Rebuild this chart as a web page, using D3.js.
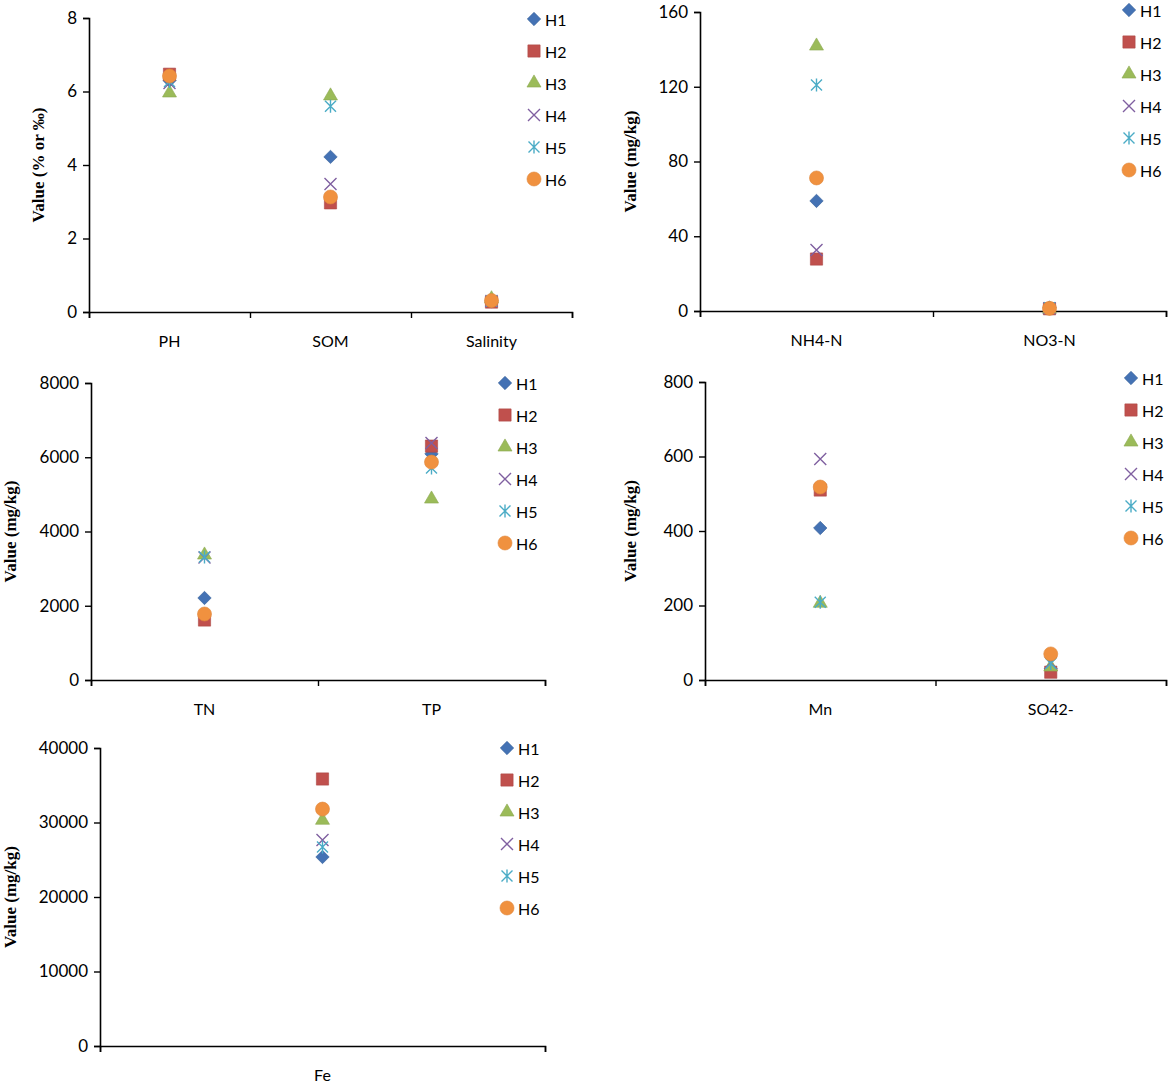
<!DOCTYPE html>
<html>
<head>
<meta charset="utf-8">
<script src="https://cdn.jsdelivr.net/npm/d3@7"></script>
<style>
  body { margin: 0; background: #fff; }
  svg { display: block; }
</style>
</head>
<body>
<div id="chart"></div>
<script>
// Series (sampling sites)
var seriesNames  = ["H1", "H2", "H3", "H4", "H5", "H6"];
var seriesColors = ["#4472B4", "#C0504D", "#9BBB59", "#7F5FA0", "#4BACC6", "#F0913F"];
var seriesShapes = ["diamond", "square", "triangle", "x", "star", "circle"];

// Panel 1: PH, SOM, Salinity
var cats1   = ["PH", "SOM", "Salinity"];
var values1 = [
  [6.30, 4.22, 0.30],
  [6.47, 2.97, 0.27],
  [5.96, 5.88, 0.36],
  [6.23, 3.48, 0.30],
  [6.27, 5.60, 0.30],
  [6.42, 3.13, 0.31]
];
var ticks1 = [0, 2, 4, 6, 8];

// Panel 2: NH4-N, NO3-N
var cats2   = ["NH4-N", "NO3-N"];
var values2 = [
  [58.9, 1.8],
  [27.8, 1.2],
  [141.8, 1.0],
  [32.6, 1.5],
  [120.9, 1.7],
  [71.2, 1.4]
];
var ticks2 = [0, 40, 80, 120, 160];

// Panel 3: TN, TP
var cats3   = ["TN", "TP"];
var values3 = [
  [2209, 6090],
  [1616, 6300],
  [3367, 4875],
  [3300, 6384],
  [3313, 5710],
  [1778, 5870]
];
var ticks3 = [0, 2000, 4000, 6000, 8000];

// Panel 4: Mn, SO42-
var cats4   = ["Mn", "SO42-"];
var values4 = [
  [408, 30],
  [510, 21],
  [206, 35],
  [593, 46],
  [209, 44],
  [518, 70]
];
var ticks4 = [0, 200, 400, 600, 800];

// Panel 5: Fe
var cats5   = ["Fe"];
var values5 = [
  [25370],
  [35840],
  [30300],
  [27650],
  [26700],
  [31800]
];
var ticks5 = [0, 10000, 20000, 30000, 40000];

var panels = [
  { cats: cats1, values: values1, ticks: ticks1, label: "Value (% or \u2030)",
    x0: 89,  x1: 572,  yTop: 18,  yZero: 312, legendX: 534,  legendY: 19,  labelX: 40 },
  { cats: cats2, values: values2, ticks: ticks2, label: "Value (mg/kg)",
    x0: 700, x1: 1166, yTop: 12,  yZero: 311, legendX: 1129, legendY: 10,  labelX: 632 },
  { cats: cats3, values: values3, ticks: ticks3, label: "Value (mg/kg)",
    x0: 91,  x1: 545,  yTop: 383, yZero: 680, legendX: 505,  legendY: 383, labelX: 12 },
  { cats: cats4, values: values4, ticks: ticks4, label: "Value (mg/kg)",
    x0: 705, x1: 1166, yTop: 382, yZero: 680, legendX: 1131, legendY: 378, labelX: 632 },
  { cats: cats5, values: values5, ticks: ticks5, label: "Value (mg/kg)",
    x0: 100, x1: 545,  yTop: 748, yZero: 1046, legendX: 507, legendY: 748, labelX: 12 }
];

var tickFont = "Lato, 'Open Sans', sans-serif";

var svg = d3.select("#chart").append("svg")
            .attr("width", 1170)
            .attr("height", 1086);

// Draw one marker of a given shape at the origin of group g
function drawMarker(g, shape, color) {
  if (shape === "diamond") {
    g.append("path")
     .attr("d", d3.symbol().type(d3.symbolSquare).size(90)())
     .attr("transform", "rotate(45)")
     .attr("fill", color).attr("stroke", d3.color(color).darker(0.4)).attr("stroke-width", 0.6);
  } else if (shape === "square") {
    g.append("path")
     .attr("d", d3.symbol().type(d3.symbolSquare).size(150)())
     .attr("fill", color).attr("stroke", d3.color(color).darker(0.3)).attr("stroke-width", 0.6);
  } else if (shape === "triangle") {
    g.append("path")
     .attr("d", d3.symbol().type(d3.symbolTriangle).size(85)())
     .attr("fill", color).attr("stroke", d3.color(color).darker(0.3)).attr("stroke-width", 0.6);
  } else if (shape === "circle") {
    g.append("path")
     .attr("d", d3.symbol().type(d3.symbolCircle).size(155)())
     .attr("fill", color).attr("stroke", d3.color(color).darker(0.2)).attr("stroke-width", 0.6);
  } else if (shape === "x") {
    var s = 6;
    g.append("path")
     .attr("d", "M" + -s + "," + -s + "L" + s + "," + s + "M" + s + "," + -s + "L" + -s + "," + s)
     .attr("fill", "none").attr("stroke", color).attr("stroke-width", 1.4);
  } else if (shape === "star") {
    var t = 5.5;
    g.append("path")
     .attr("d", "M" + -t + "," + -t + "L" + t + "," + t + "M" + t + "," + -t + "L" + -t + "," + t +
                "M0," + (-t - 1) + "L0," + (t + 1))
     .attr("fill", "none").attr("stroke", color).attr("stroke-width", 1.4);
  }
}

panels.forEach(function(p) {
  var g = svg.append("g");
  var n = p.cats.length;

  // Scales
  var y = d3.scaleLinear()
            .domain([0, p.ticks[p.ticks.length - 1]])
            .range([p.yZero, p.yTop]);
  var xIdx = d3.scaleLinear().domain([0, n]).range([p.x0, p.x1]);

  // Y axis
  var yAxis = g.append("g")
               .attr("transform", "translate(" + p.x0 + ",0)")
               .call(d3.axisLeft(y).tickValues(p.ticks).tickSize(6).tickPadding(6).tickFormat(d3.format("d")));
  yAxis.selectAll("text").attr("font-family", tickFont).attr("font-size", "17px").attr("fill", "#000");

  // X axis (ticks at category boundaries)
  var xAxis = g.append("g")
               .attr("transform", "translate(0," + p.yZero + ")")
               .call(d3.axisBottom(xIdx).tickValues(d3.range(n + 1)).tickSize(6).tickFormat(""));

  [yAxis, xAxis].forEach(function(a) {
    a.select(".domain").attr("stroke", "#000").attr("stroke-width", 1.6);
    a.selectAll(".tick line").attr("stroke", "#000").attr("stroke-width", 1.4);
  });

  // Category labels
  g.selectAll(".cat")
   .data(p.cats)
   .enter()
   .append("text")
   .attr("x", function(d, i) { return xIdx(i + 0.5); })
   .attr("y", p.yZero + 35)
   .attr("text-anchor", "middle")
   .attr("font-family", tickFont)
   .attr("font-size", "16px")
   .text(function(d) { return d; });

  // Y label
  g.append("text")
   .attr("transform", "translate(" + p.labelX + "," + ((p.yTop + p.yZero) / 2) + ") rotate(-90)")
   .attr("text-anchor", "middle")
   .attr("dominant-baseline", "middle")
   .attr("font-family", "'Liberation Serif', 'Times New Roman', serif")
   .attr("font-weight", "bold")
   .attr("font-size", "17px")
   .text(p.label);

  // Points
  p.values.forEach(function(vals, si) {
    vals.forEach(function(v, ci) {
      var mg = g.append("g")
                .attr("transform", "translate(" + xIdx(ci + 0.5) + "," + y(v) + ")");
      drawMarker(mg, seriesShapes[si], seriesColors[si]);
    });
  });

  // Legend
  seriesNames.forEach(function(name, si) {
    var ly = p.legendY + si * 32;
    var lg = g.append("g").attr("transform", "translate(" + p.legendX + "," + ly + ")");
    drawMarker(lg, seriesShapes[si], seriesColors[si]);
    g.append("text")
     .attr("x", p.legendX + 11)
     .attr("y", ly)
     .attr("dominant-baseline", "central")
     .attr("font-family", tickFont)
     .attr("font-size", "16px")
     .text(name);
  });
});
</script>
</body>
</html>
